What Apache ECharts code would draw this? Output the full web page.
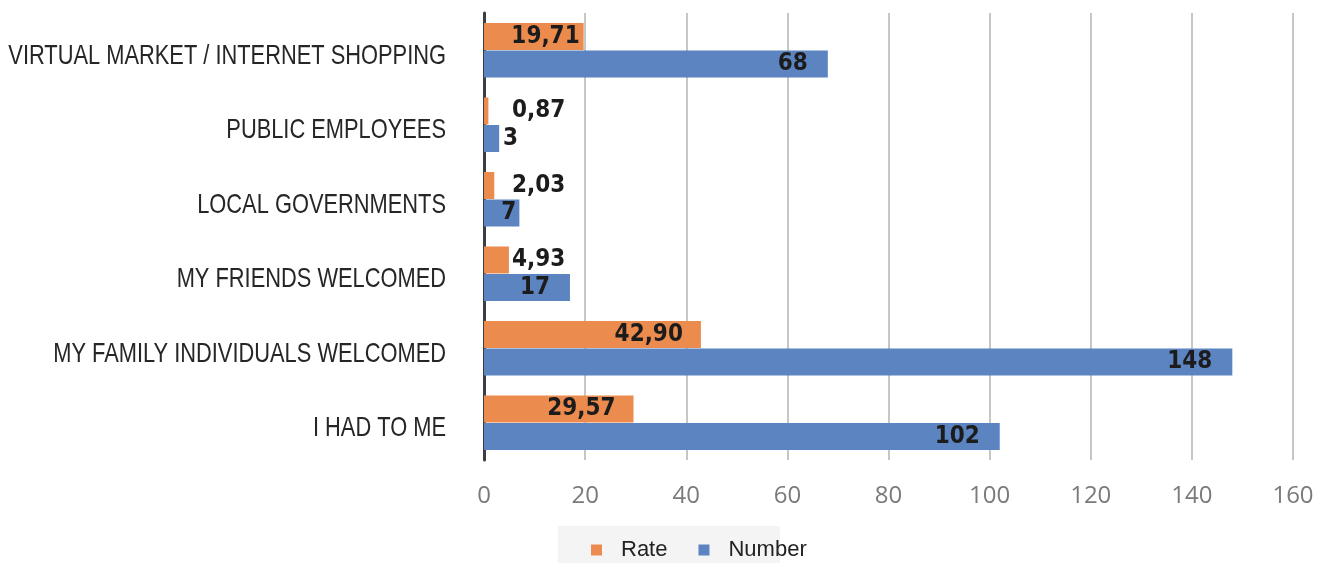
<!DOCTYPE html>
<html>
<head>
<meta charset="utf-8">
<script src="https://cdn.jsdelivr.net/npm/echarts@6/dist/echarts.min.js"></script>
<style>
  html, body { margin: 0; padding: 0; background: #ffffff; }
  #chart { width: 1331px; height: 563px; }
</style>
</head>
<body>
<div id="chart"></div>
<script>
// Survey answers, listed top to bottom
const categories = [
  'VIRTUAL MARKET / INTERNET SHOPPING',
  'PUBLIC EMPLOYEES',
  'LOCAL GOVERNMENTS',
  'MY FRIENDS WELCOMED',
  'MY FAMILY INDIVIDUALS WELCOMED',
  'I HAD TO ME'
];
const rateValues = [19.71, 0.87, 2.03, 4.93, 42.90, 29.57];
const numberValues = [68, 3, 7, 17, 148, 102];
const xTicks = [0, 20, 40, 60, 80, 100, 120, 140, 160];

const ORANGE = '#EC8B4E';
const BLUE = '#5B84C0';

const labelFont = {
  fontFamily: 'DejaVu Sans Condensed, DejaVu Sans',
  fontWeight: 'bold',
  fontSize: 24,
  color: '#1c1c1c'
};

// Short bars carry their label just outside, long ones inside the end
function labelFor(value, text, outsideFrom, insideDist) {
  if (value < 5) {
    return Object.assign({ show: true, position: 'insideLeft', distance: outsideFrom, formatter: text }, labelFont);
  }
  return Object.assign({ show: true, position: 'insideRight', distance: insideDist(value), formatter: text }, labelFont);
}

const fmtRate = v => v.toFixed(2).replace('.', ',');

const rateData = rateValues.map(v => ({
  value: v,
  label: labelFor(v, fmtRate(v), 28, val => (val < 25 ? 4 : 18))
}));
const numberData = numberValues.map(v => ({
  value: v,
  label: labelFor(v, String(v), 19, val => (val < 10 ? 3 : 20))
}));

const chart = echarts.init(document.getElementById('chart'), null, { renderer: 'canvas' });

chart.setOption({
  animation: false,
  backgroundColor: '#ffffff',
  legend: {
    data: ['Rate', 'Number'],
    left: 586,
    top: 534,
    itemWidth: 11,
    itemHeight: 11,
    itemGap: 31,
    icon: 'rect',
    textStyle: {
      fontFamily: 'Liberation Sans',
      fontSize: 22,
      color: '#222222',
      padding: [0, 0, 0, 14]
    }
  },
  grid: {
    left: 484,
    right: 38,
    top: 13,
    bottom: 103,
    containLabel: false,
    outerBoundsMode: 'none'
  },
  xAxis: {
    type: 'value',
    min: xTicks[0],
    max: xTicks[xTicks.length - 1],
    interval: 20,
    axisLine: { show: false },
    axisTick: { show: false },
    splitLine: { show: true, lineStyle: { color: '#c6c6c6', width: 2 } },
    axisLabel: {
      margin: 24,
      fontFamily: 'Open Sans',
      fontSize: 24,
      color: '#7a7a7a'
    }
  },
  yAxis: {
    type: 'category',
    data: categories,
    inverse: true,
    axisLine: { show: true, lineStyle: { color: '#3a3d42', width: 3 } },
    axisTick: { show: false },
    axisLabel: { show: false }
  },
  series: [
    {
      name: 'Rate',
      type: 'bar',
      data: rateData,
      barWidth: 27,
      barGap: '2%',
      itemStyle: { color: ORANGE }
    },
    {
      name: 'Number',
      type: 'bar',
      data: numberData,
      barWidth: 27,
      barGap: '2%',
      itemStyle: { color: BLUE }
    }
  ]
});

// Category names in a condensed cut: each one is placed at its band centre
// on the category axis and squeezed horizontally, right-aligned to the axis.
const axisX = chart.convertToPixel({ xAxisIndex: 0 }, 0);
const nameElements = categories.map((name, i) => ({
  type: 'text',
  x: axisX - 38,
  y: chart.convertToPixel({ yAxisIndex: 0 }, i) + 6,
  scaleX: 0.78,
  style: {
    text: name,
    fontFamily: 'Liberation Sans',
    fontSize: 28,
    fill: '#262626',
    align: 'right',
    verticalAlign: 'middle'
  },
  silent: true
}));

chart.setOption({
  graphic: [
    {
      type: 'rect',
      left: 558,
      top: 526,
      shape: { width: 222, height: 40 },
      style: { fill: '#f4f4f4' },
      z: -1,
      silent: true
    }
  ].concat(nameElements)
});
</script>
</body>
</html>
